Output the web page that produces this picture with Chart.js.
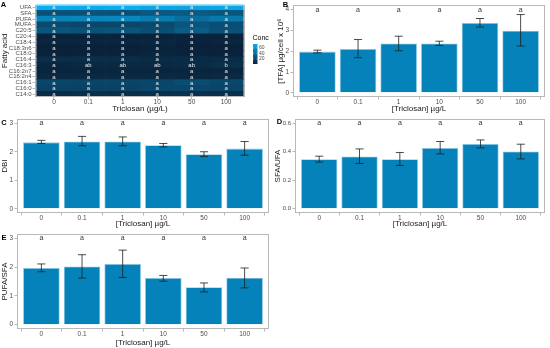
<!DOCTYPE html>
<html><head><meta charset="utf-8">
<script src="https://cdn.jsdelivr.net/npm/chart.js@4.4.1/dist/chart.umd.min.js"></script>
<style>
html,body{margin:0;padding:0;background:#fff;width:550px;height:348px;overflow:hidden;position:relative;}
canvas{position:absolute;}
</style></head><body>
<canvas id="cA" style="left:0px;top:0px" width="275" height="114"></canvas>
<canvas id="cB" style="left:270px;top:0px" width="280" height="114"></canvas>
<canvas id="cC" style="left:0px;top:113px" width="275" height="116"></canvas>
<canvas id="cD" style="left:270px;top:113px" width="280" height="116"></canvas>
<canvas id="cE" style="left:0px;top:228px" width="275" height="120"></canvas>
<script>
// ---------------- DATA ----------------
const concLabels = ['0','0.1','1','10','50','100'];
const fattyAcids = ['UFA','SFA','PUFA','MUFA','C20:5','C20:4','C18:4','C18:3n6','C18:0','C16:4','C16:3','C16:2n7','C16:2n4','C16:1','C16:0','C14:0'];
// Conc (% of total fatty acids), rows = fattyAcids, cols = concLabels
const concUFA    = [74, 73, 74, 70, 69, 71];
const concSFA    = [26, 27, 26, 30, 31, 29];
const concPUFA   = [52, 53, 54, 48, 41, 46];
const concMUFA   = [22, 20, 20, 22, 28, 25];
const concC20_5  = [28, 27, 28, 25, 32, 26];
const concC20_4  = [2, 2, 2, 2, 2, 2];
const concC18_4  = [3, 3, 3, 4, 2, 3];
const concC18_3n6= [1, 1, 1, 2, 1, 1];
const concC18_0  = [2, 2, 2, 3, 2, 2];
const concC16_4  = [7, 7, 7, 6, 6, 6];
const concC16_3  = [4, 5, 5, 5, 6, 8];
const concC16_2n7= [3, 3, 3, 3, 3, 3];
const concC16_2n4= [5, 5, 5, 5, 4, 5];
const concC16_1  = [20, 19, 19, 20, 24, 21];
const concC16_0  = [18, 18, 18, 20, 20, 19];
const concC14_0  = [6, 7, 7, 8, 9, 8];
const concMatrix = [concUFA, concSFA, concPUFA, concMUFA, concC20_5, concC20_4, concC18_4, concC18_3n6,
  concC18_0, concC16_4, concC16_3, concC16_2n7, concC16_2n4, concC16_1, concC16_0, concC14_0];
const heatLettersDefault = ['a','a','a','a','a','a'];
const heatLettersC16_3 = ['a','ab','ab','ab','ab','b'];
const heatLetters = fattyAcids.map(f => f === 'C16:3' ? heatLettersC16_3 : heatLettersDefault);
const legendTicks = [20, 40, 60];

const tfaMean = [1.98, 2.11, 2.37, 2.37, 3.36, 2.98];
const tfaLow  = [1.92, 1.69, 2.02, 2.28, 3.16, 2.25];
const tfaHigh = [2.05, 2.56, 2.72, 2.48, 3.57, 3.76];
const tfaTicks = [0, 1, 2, 3, 4];

const dbiMean = [2.33, 2.36, 2.36, 2.23, 1.91, 2.11];
const dbiLow  = [2.29, 2.21, 2.21, 2.17, 1.83, 1.88];
const dbiHigh = [2.40, 2.54, 2.52, 2.29, 2.00, 2.36];
const dbiTicks = [0, 1, 2, 3];

const sfaUfaMean = [0.348, 0.367, 0.348, 0.427, 0.455, 0.402];
const sfaUfaLow  = [0.327, 0.318, 0.304, 0.385, 0.427, 0.350];
const sfaUfaHigh = [0.369, 0.420, 0.395, 0.472, 0.483, 0.453];
const sfaUfaTicks = [0, 0.2, 0.4, 0.6];

const pufaSfaMean = [1.97, 2.02, 2.11, 1.62, 1.30, 1.63];
const pufaSfaLow  = [1.84, 1.62, 1.64, 1.51, 1.14, 1.28];
const pufaSfaHigh = [2.11, 2.43, 2.59, 1.71, 1.45, 1.97];
const pufaSfaTicks = [0, 1, 2, 3];

const barLetters = ['a','a','a','a','a','a'];

// ---------------- STYLE ----------------
const FONT = "'Liberation Sans', Arial, Helvetica, sans-serif";
Chart.defaults.font.family = FONT;
Chart.defaults.animation = false;
const tickCol = '#4d4d4d', titleCol = '#1a1a1a', lineCol = '#b8b8b8';
const barFill = '#0682BA', barEdge = '#8cc9e6';
const lowRGB = [10, 33, 57], highRGB = [8, 174, 240];
const allConc = concMatrix.flat();
const cMin = Math.min(...allConc), cMax = Math.max(...allConc);
function concColor(v){
  const t = Math.max(0, Math.min(1, (v - cMin) / (cMax - cMin)));
  const c = lowRGB.map((l,k)=>Math.round(l + (highRGB[k]-l)*t));
  return `rgb(${c[0]},${c[1]},${c[2]})`;
}

const framePlugin = {
  id: 'frame',
  afterDraw(chart, args, o){
    const {left, top, right, bottom} = chart.chartArea;
    const ctx = chart.ctx;
    ctx.save();
    ctx.strokeStyle = lineCol; ctx.lineWidth = 1;
    ctx.strokeRect(Math.round(left)+0.5, Math.round(top)+0.5, Math.round(right-left)-1, Math.round(bottom-top)-1);
    if (o.tag){
      ctx.fillStyle = '#000'; ctx.font = `bold 7.5px ${FONT}`;
      ctx.textAlign = 'center'; ctx.textBaseline = 'middle';
      ctx.fillText(o.tag, o.tagX, o.tagY);
    }
    ctx.restore();
  }
};

const errPlugin = {
  id: 'errbars',
  afterDatasetsDraw(chart, args, o){
    if (!o.low) return;
    const xs = chart.scales.x, ys = chart.scales.y, ctx = chart.ctx;
    ctx.save();
    ctx.strokeStyle = '#1e1e1e'; ctx.lineWidth = 0.8;
    o.low.forEach((lo, i) => {
      const hi = o.high[i];
      const xc = xs.getPixelForValue(i+1), xl = xs.getPixelForValue(i+0.9), xr = xs.getPixelForValue(i+1.1);
      const yl = ys.getPixelForValue(lo), yh = ys.getPixelForValue(hi);
      ctx.beginPath();
      ctx.moveTo(xc, yl); ctx.lineTo(xc, yh);
      ctx.moveTo(xl, yl); ctx.lineTo(xr, yl);
      ctx.moveTo(xl, yh); ctx.lineTo(xr, yh);
      ctx.stroke();
    });
    ctx.fillStyle = '#333'; ctx.font = `7px ${FONT}`;
    ctx.textAlign = 'center'; ctx.textBaseline = 'middle';
    o.letters.forEach((t, i) => {
      ctx.fillText(t, xs.getPixelForValue(i+1), ys.getPixelForValue(o.letterY));
    });
    ctx.restore();
  }
};

function makeBar(id, p){
  const cv = document.getElementById(id);
  const W = cv.width, H = cv.height;
  return new Chart(cv, {
    type: 'bar',
    data: { datasets: [{
      data: p.mean.map((v,i)=>({x:i+1, y:v})),
      backgroundColor: barFill, borderColor: barEdge, borderWidth: 0.8,
      barPercentage: 0.9, categoryPercentage: 1
    }]},
    options: {
      responsive: false, maintainAspectRatio: false, animation: false,
      layout: { padding: { left: 0, top: p.frame.top, right: W - p.frame.right, bottom: 0 } },
      scales: {
        x: {
          type: 'linear', min: 0.4, max: 6.6, offset: false,
          afterBuildTicks: ax => { ax.ticks = concLabels.map((_,i)=>({value:i+1})); },
          afterFit: s => { s.height = H - p.frame.bottom; },
          ticks: { callback: (v,i)=>concLabels[i], font:{size:6.5}, color: tickCol, padding: -1, maxRotation: 0, autoSkip: false },
          grid: { drawOnChartArea: false, drawTicks: true, tickLength: 2.5, color: lineCol },
          border: { display: false },
          title: { display: true, text: '[Triclosan] \u00b5g/L', font:{size:8}, color: titleCol, padding: 0 }
        },
        y: {
          type: 'linear', min: p.ymin, max: p.ymax,
          afterBuildTicks: ax => { ax.ticks = p.yticks.map(v=>({value:v})); },
          afterFit: s => { s.width = p.frame.left; },
          ticks: { callback: (v,i)=>p.yfmt(p.yticks[i]), font:{size:p.ytickSize || 6.5}, color: tickCol, padding: 1.5, autoSkip: false },
          grid: { drawOnChartArea: false, drawTicks: true, tickLength: 2.5, color: lineCol },
          border: { display: false },
          title: { display: true, text: p.ytitle, font:{size:8}, color: titleCol, padding: {top: p.titlePad, bottom: 0} }
        }
      },
      plugins: {
        legend: { display: false }, tooltip: { enabled: false },
        frame: { tag: p.tag, tagX: p.tagX, tagY: p.tagY },
        errbars: { low: p.low, high: p.high, letters: barLetters, letterY: p.letterY }
      }
    },
    plugins: [framePlugin, errPlugin]
  });
}

// ---------------- PANEL A: heatmap ----------------
(function(){
  const cv = document.getElementById('cA');
  const W = cv.width, H = cv.height;
  const frame = {left: 35, top: 3, right: 245, bottom: 97};
  const datasets = concLabels.map((c, j) => ({
    data: fattyAcids.map(() => [j+0.5, j+1.5]),
    backgroundColor: fattyAcids.map((_, i) => concColor(concMatrix[i][j])),
    borderWidth: 0, grouped: false, barPercentage: 1, categoryPercentage: 1
  }));
  const heatText = {
    id: 'heatText',
    afterDatasetsDraw(chart){
      const xs = chart.scales.x, ys = chart.scales.y, ctx = chart.ctx;
      ctx.save();
      ctx.fillStyle = '#e8e8e8'; ctx.font = `6px ${FONT}`;
      ctx.textAlign = 'center'; ctx.textBaseline = 'middle';
      heatLetters.forEach((row, i) => row.forEach((t, j) => {
        ctx.fillText(t, xs.getPixelForValue(j+1), ys.getPixelForValue(i) + 0.3);
      }));
      // legend
      const lx = 253, lw = 4.5, ltop = 44, lbot = 64;
      ctx.fillStyle = '#000'; ctx.font = `7px ${FONT}`; ctx.textAlign = 'left';
      ctx.fillText('Conc', 252.5, 38.5);
      const g = ctx.createLinearGradient(0, lbot, 0, ltop);
      for (let k = 0; k <= 10; k++) g.addColorStop(k/10, concColor(cMin + (cMax-cMin)*k/10));
      ctx.fillStyle = g; ctx.fillRect(lx, ltop, lw, lbot - ltop);
      ctx.font = `5px ${FONT}`; ctx.fillStyle = tickCol;
      legendTicks.forEach(v => {
        const y = lbot - (v - cMin)/(cMax - cMin) * (lbot - ltop);
        ctx.strokeStyle = '#fff'; ctx.lineWidth = 0.5;
        ctx.beginPath(); ctx.moveTo(lx, y); ctx.lineTo(lx+1, y); ctx.moveTo(lx+lw-1, y); ctx.lineTo(lx+lw, y); ctx.stroke();
        ctx.fillText(String(v), lx + lw + 1.5, y);
      });
      ctx.restore();
    }
  };
  new Chart(cv, {
    type: 'bar',
    data: { labels: fattyAcids, datasets },
    options: {
      indexAxis: 'y', responsive: false, maintainAspectRatio: false, animation: false,
      layout: { padding: { left: 0, top: frame.top, right: W - frame.right, bottom: 0 } },
      scales: {
        x: {
          type: 'linear', min: 0.45, max: 6.55, offset: false,
          afterBuildTicks: ax => { ax.ticks = concLabels.map((_,i)=>({value:i+1})); },
          afterFit: s => { s.height = H - frame.bottom; },
          ticks: { callback: (v,i)=>concLabels[i], font:{size:6.5}, color: tickCol, padding: -1, maxRotation: 0, autoSkip: false },
          grid: { drawOnChartArea: false, drawTicks: true, tickLength: 2.5, color: lineCol },
          border: { display: false },
          title: { display: true, text: 'Triclosan (\u00b5g/L)', font:{size:8}, color: titleCol, padding: 0 }
        },
        y: {
          type: 'category', offset: true,
          afterFit: s => { s.width = frame.left; },
          ticks: { font:{size:6}, color: tickCol, padding: 1, autoSkip: false },
          grid: { drawOnChartArea: false, drawTicks: true, tickLength: 2.5, color: lineCol, offset: false },
          border: { display: false },
          title: { display: true, text: 'Fatty acid', font:{size:8}, color: titleCol, padding: 0 }
        }
      },
      plugins: { legend: {display:false}, tooltip: {enabled:false}, frame: { tag: 'A', tagX: 3.5, tagY: 5 } }
    },
    plugins: [framePlugin, heatText]
  });
})();

// ---------------- PANELS B-E ----------------
makeBar('cB', { mean: tfaMean, low: tfaLow, high: tfaHigh, yticks: tfaTicks, ymin: -0.2, ymax: 4.2,
  yfmt: v => String(v), ytitle: '[TFA] \u00b5g/cell x 10\u2076', titlePad: 6,
  frame: {left: 23, top: 2, right: 275, bottom: 97}, tag: 'B', tagX: 15.5, tagY: 5, letterY: 4 });
makeBar('cC', { mean: dbiMean, low: dbiLow, high: dbiHigh, yticks: dbiTicks, ymin: -0.15, ymax: 3.15,
  yfmt: v => String(v), ytitle: 'DBI', titlePad: 0,
  frame: {left: 17, top: 6, right: 269, bottom: 100}, tag: 'C', tagX: 4, tagY: 9.5, letterY: 3 });
makeBar('cD', { mean: sfaUfaMean, low: sfaUfaLow, high: sfaUfaHigh, yticks: sfaUfaTicks, ymin: -0.03, ymax: 0.63,
  yfmt: v => v.toFixed(1), ytitle: 'SFA/UFA', titlePad: 3, ytickSize: 6,
  frame: {left: 25, top: 6, right: 275, bottom: 100}, tag: 'D', tagX: 9.5, tagY: 8.5, letterY: 0.6 });
makeBar('cE', { mean: pufaSfaMean, low: pufaSfaLow, high: pufaSfaHigh, yticks: pufaSfaTicks, ymin: -0.15, ymax: 3.15,
  yfmt: v => String(v), ytitle: 'PUFA/SFA', titlePad: 0,
  frame: {left: 17, top: 6, right: 269, bottom: 101}, tag: 'E', tagX: 4, tagY: 10, letterY: 3 });
</script>
</body></html>
